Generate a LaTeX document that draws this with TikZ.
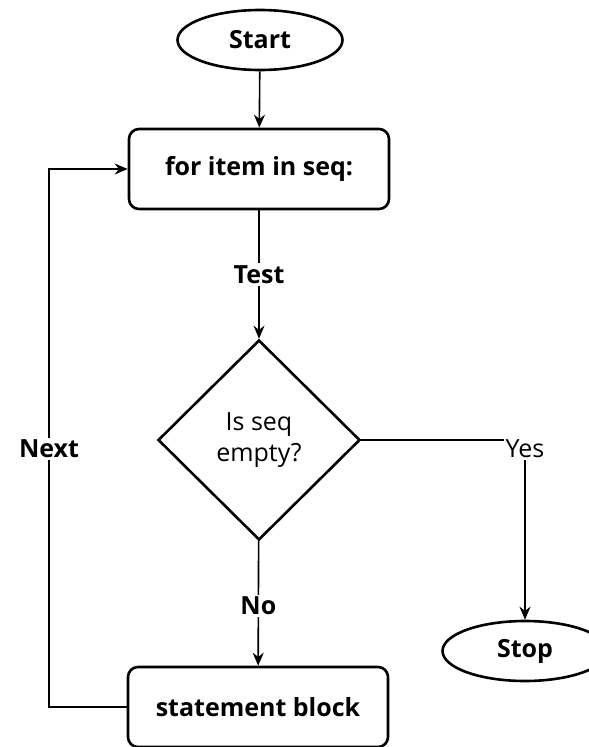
\documentclass[tikz,border=0pt]{standalone}
\usepackage{fontspec}
\setmainfont{Open Sans}
\usetikzlibrary{shapes.geometric,arrows.meta}

\begin{document}
\begin{tikzpicture}
	[x=1pt,y=-1pt,
	every node/.style={font=\fontsize{25}{30}\selectfont\bfseries},
	terminal/.style={ellipse,draw,line width=2.6pt,minimum width=165pt,minimum height=60pt,inner sep=0pt},
	block/.style={rectangle,rounded corners=10pt,draw,line width=2.6pt,minimum width=260pt,minimum height=80pt},
	decision/.style={diamond,draw,line width=2.6pt,minimum width=202pt,minimum height=200pt,inner sep=0pt,align=center,font=\fontsize{25}{31}\selectfont},
	lbl/.style={fill=white,inner sep=2pt},
	link/.style={line width=1.6pt,-{Stealth[length=13pt,width=11pt]}}]
	\useasboundingbox (0,0) rectangle (589,747);
	\clip (0,0) rectangle (589,747);
	\node (start) [terminal] at (260,40) {Start};
	\node (loop) [block] at (259,169) {for item in seq:};
	\node (test) [decision] at (259,440) {Is seq\\empty?};
	\node (body) [block] at (258,707) {statement block};
	\node (stop) [terminal] at (525,651) {Stop};
	\draw [link] (start) -- (loop);
	\draw [link] (loop) -- node [lbl] {Test} (test);
	\draw [link] (test) -- node [lbl,pos=0.52] {No} (body);
	\draw [link] (test.east) -| node [lbl,pos=0.5,yshift=-9pt,font=\fontsize{25}{30}\selectfont] {Yes} (stop.north);
	\draw [link] (body.west) -- (49,707) |- node [lbl,pos=0.24] {Next} (loop.west);
\end{tikzpicture}
\end{document}
